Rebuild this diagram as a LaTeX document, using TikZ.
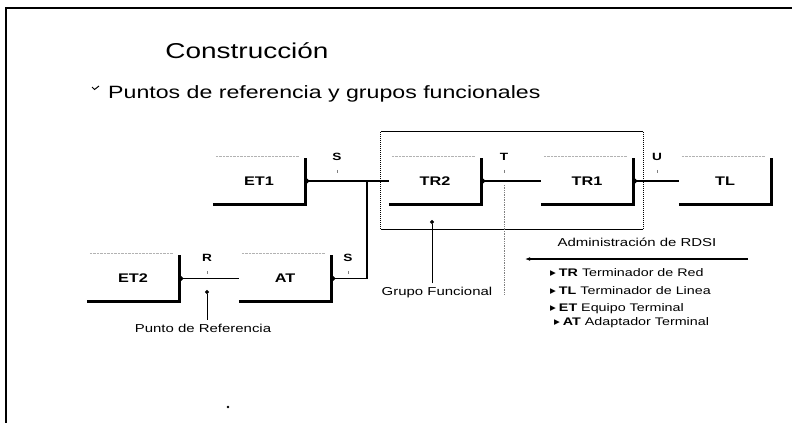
\documentclass[tikz,border=0pt]{standalone}
\usepackage{fontspec}
\setmainfont{Liberation Sans}[FakeStretch=1.3]
\newfontfamily\symfont{DejaVu Sans}
\usetikzlibrary{arrows.meta}

\newcommand{\vineta}{\raisebox{1.5pt}{\symfont\fontsize{7.5}{8}\selectfont ▶}\hspace{3pt}}

\begin{document}
\begin{tikzpicture}[x=1pt,y=-1pt,
    bloque/.style={minimum width=92pt,minimum height=46pt,inner sep=0pt,
      font=\fontsize{12.5}{14}\selectfont\bfseries},
    borde/.style={line width=2.6pt},
    enlace/.style={line width=1.8pt,{Circle[length=4pt]}-},
    punto/.style={font=\fontsize{10.5}{12}\selectfont\bfseries,inner sep=0pt},
    marca/.style={gray,line width=0.7pt},
    rotulo/.style={font=\fontsize{11.5}{13}\selectfont,inner sep=0pt},
    item/.style={anchor=west,font=\fontsize{11}{13}\selectfont,inner sep=0pt}]

    \useasboundingbox (0,0) rectangle (792,423);

    % Marco de la diapositiva
    \draw[line width=1.8pt] (792,8) -- (6,8) -- (6,423);

    % Titulos
    \node[anchor=base,inner sep=0pt,font=\fontsize{21.5}{26}\selectfont] (titulo) at (247,58) {Construcción};
    \draw[line width=1pt] (92,87) -- (94.5,89.5) -- (99,86);
    \node[anchor=base west,inner sep=0pt,font=\fontsize{17.8}{20}\selectfont] (sub) at (108,98) {Puntos de referencia y grupos funcionales};

    % Grupo funcional
    \node[minimum width=262pt,minimum height=97pt,inner sep=0pt] (grupo) at (512,180.5) {};
    \draw[line width=1pt] (grupo.north west) -- (grupo.north east);
    \draw[line width=1pt] (grupo.south west) -- (grupo.south east);
    \draw[line width=1pt,densely dotted] (grupo.north west) -- (grupo.south west);
    \draw[line width=1pt,densely dotted] (grupo.north east) -- (grupo.south east);

    % Bloques
    \node[bloque] (et1) at (259,181) {ET1};
    \node[bloque] (tr2) at (435,181) {TR2};
    \node[bloque] (tr1) at (587,181) {TR1};
    \node[bloque] (tl) at (725,181) {TL};
    \node[bloque] (et2) at (133,278.5) {ET2};
    \node[bloque] (at) at (285,278.5) {AT};
    \foreach \b in {et1,tr2,tr1,tl,et2,at}{
      \draw[borde] (\b.south west) -| (\b.north east);
      \draw[gray!60,densely dotted] ([xshift=3pt,yshift=2pt]\b.north west) -- ([xshift=-6pt,yshift=2pt]\b.north east);
    }

    % Enlaces
    \draw[enlace] (et1.east) -- (tr2.west);
    \draw[enlace] (tr2.east) -- (tr1.west);
    \draw[enlace] (tr1.east) -- (tl.west);
    \draw[enlace] (et2.east) -- (at.west);
    \coordinate (deriv) at (367,181);
    \draw[enlace] (at.east) -| (deriv);

    % Puntos de referencia
    \node[punto] (s1) at (337,157) {S};
    \node[punto] (t) at (504,157) {T};
    \node[punto] (u) at (657,157) {U};
    \node[punto] (s2) at (348,258) {S};
    \node[punto] (r) at (207,258) {R};
    \foreach \p in {s1,t,u,s2,r}
      \draw[marca] ([yshift=-9pt]\p.south) -- ++(0,3);
    \coordinate (tini) at (504,185);
    \coordinate (tfin) at (504,294);
    \draw[marca,densely dotted] (tini) -- (tfin);

    % Rotulos con flecha
    \node[rotulo] (gf) at (437,293) {Grupo Funcional};
    \coordinate (gfp) at (432,220);
    \draw[line width=1pt,-{Circle[length=4pt]}] ([yshift=4pt]gf.north -| gfp) -- (gfp);
    \node[rotulo] (pr) at (203,328) {Punto de Referencia};
    \coordinate (prp) at (207,290);
    \draw[line width=1pt,-{Circle[length=4pt]}] ([yshift=4pt]pr.north -| prp) -- (prp);

    % Administracion de RDSI
    \node[rotulo] (adm) at (637,242) {Administración de RDSI};
    \coordinate (adma) at (748,259);
    \coordinate (admb) at (525,259);
    \draw[line width=1.5pt,-{Latex[length=5pt]}] (adma) -- (admb);
    \node[item] (i1) at (550,273) {\vineta\textbf{TR} Terminador de Red};
    \node[item] (i2) at (550,291) {\vineta\textbf{TL} Terminador de Linea};
    \node[item] (i3) at (550,309) {\vineta\textbf{ET} Equipo Terminal};
    \node[item] (i4) at (554,323) {\vineta\textbf{AT} Adaptador Terminal};

    \fill (228,407) circle (1.3pt);

\end{tikzpicture}
\end{document}
